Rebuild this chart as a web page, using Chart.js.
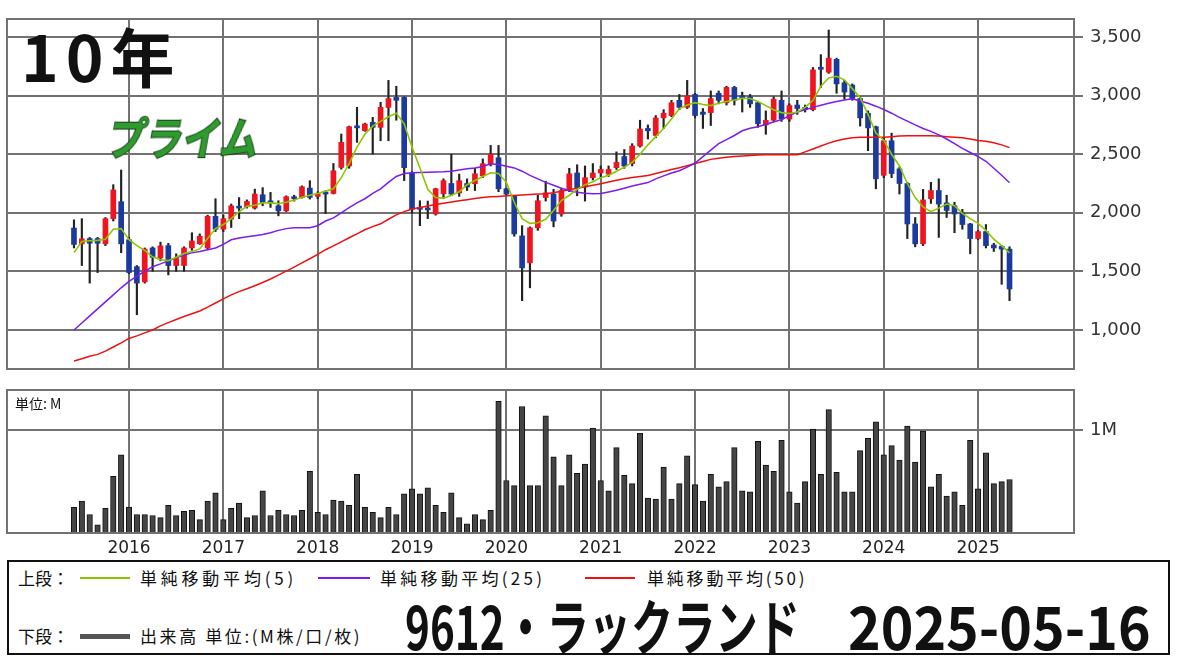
<!DOCTYPE html>
<html>
<head>
<meta charset="utf-8">
<script src="https://cdn.jsdelivr.net/npm/chart.js@4"></script>
<style>
body{margin:0;background:#fff;width:1180px;height:663px;overflow:hidden;position:relative;font-family:"Noto Sans CJK JP",sans-serif;color:#111;}
canvas{position:absolute;left:0;}
#price{top:0;}
#vol{top:372px;}
.t{position:absolute;white-space:nowrap;line-height:1;}
.ln{position:absolute;height:2px;}
#box{position:absolute;left:7px;top:560px;width:1159px;height:91px;border:2px solid #111;}
</style>
</head>
<body>
<canvas id="price" width="1180" height="372"></canvas>
<canvas id="vol" width="1180" height="188"></canvas>

<div class="t" id="span" style="left:21px;top:22px;font-size:64px;font-weight:700;letter-spacing:7px;">10年</div>
<div class="t" id="mkt" style="left:113px;top:113px;font-size:45px;font-weight:700;color:#2e9b2e;-webkit-text-stroke:2px #173d17;paint-order:stroke fill;transform-origin:0 0;transform:skewX(-10deg) scaleX(0.84);">プライム</div>
<div class="t" style="left:15px;top:396px;font-size:14px;">単位: M</div>

<div id="box"></div>
<div class="t" style="left:18px;top:569px;font-size:17px;">上段：</div>
<div class="ln" style="left:80px;top:577px;width:50px;background:#88c400;"></div>
<div class="t fit" data-w="157" style="left:140px;top:569px;font-size:17px;">単純移動平均(5)</div>
<div class="ln" style="left:318px;top:577px;width:52px;background:#7a1cf0;"></div>
<div class="t fit" data-w="165" style="left:380px;top:569px;font-size:17px;">単純移動平均(25)</div>
<div class="ln" style="left:585px;top:577px;width:50px;background:#f01010;"></div>
<div class="t fit" data-w="160" style="left:647px;top:569px;font-size:17px;">単純移動平均(50)</div>
<div class="t" style="left:18px;top:627px;font-size:17px;">下段：</div>
<div class="ln" style="left:80px;top:634px;width:50px;height:5px;background:#555;"></div>
<div class="t fit" data-w="222" style="left:140px;top:627px;font-size:17px;">出来高 単位:(M株/口/枚)</div>
<div class="t sx" data-w="395" style="left:405px;top:594px;font-size:60px;font-weight:700;transform-origin:0 0;">9612・ラックランド</div>
<div class="t sx" data-w="303" style="left:848px;top:594px;font-size:60px;font-weight:700;transform-origin:0 0;">2025-05-16</div>

<script>
// monthly candles, 2015-06 .. 2025-05
var opens = [1870,1735,1780,1780,1735,1950,2095,1770,1540,1410,1700,1615,1720,1550,1550,1700,1735,1700,1970,1860,
  1946,2055,2051,2040,2154,2095,2060,2017,2130,2131,2211,2140,2170,2165,2387,2400,2740,2701,2772,2729,
  2900,2985,2985,2340,2040,2035,1990,2162,2250,2170,2250,2248,2316,2419,2470,2205,2145,1803,1573,1872,
  2130,2160,1990,2205,2340,2220,2300,2340,2330,2385,2480,2420,2570,2720,2660,2810,2830,2960,2900,3010,
  2860,2855,3020,2940,3070,3000,2990,2940,2750,2790,2960,2800,2920,2900,2880,3240,3200,3310,3110,3090,
  2975,2850,2735,2320,2615,2375,2250,1905,1735,2120,2190,2085,2060,2000,1905,1780,1840,1725,1715,1690];
var highs = [1940,1950,1790,1790,1960,2240,2365,1790,1550,1700,1710,1750,1740,1650,1710,1830,1820,1980,2120,1980,
  2075,2130,2110,2202,2215,2174,2103,2145,2150,2230,2274,2180,2190,2421,2672,2740,2900,2765,2815,2943,
  3130,3080,2990,2350,2103,2100,2210,2290,2500,2330,2290,2380,2460,2575,2575,2210,2150,1890,1880,2150,
  2270,2200,2210,2380,2410,2400,2420,2400,2400,2520,2540,2590,2790,2750,2830,2880,2960,3010,3130,3020,
  2890,3040,3040,3080,3080,3030,3010,2950,2870,2990,3040,2930,2960,2920,3240,3350,3560,3320,3130,3100,
  2990,2870,2740,2640,2680,2390,2260,1960,2200,2260,2290,2150,2090,2030,1910,1850,1900,1740,1720,1710];
var lows = [1700,1550,1400,1490,1720,1930,1660,1480,1130,1400,1500,1590,1470,1500,1500,1680,1730,1690,1840,1840,
  1875,1950,2040,2031,2060,2046,1974,2010,2100,2125,2117,2120,1994,2160,2373,2380,2601,2695,2501,2615,
  2615,2790,2275,1995,1890,1950,1980,2120,2145,2140,2190,2190,2300,2400,2180,2150,1800,1250,1360,1850,
  2100,1880,1970,2180,2145,2100,2280,2300,2310,2370,2380,2400,2560,2630,2640,2720,2820,2880,2890,2810,
  2720,2745,2930,2920,2920,2860,2900,2730,2670,2780,2780,2780,2840,2860,2870,3070,3190,3020,2970,2960,
  2740,2530,2205,2300,2300,2160,1780,1710,1720,2080,1790,1960,1830,1860,1650,1770,1700,1670,1390,1250];
var closes = [1730,1778,1740,1740,1950,2195,1735,1490,1400,1690,1620,1718,1550,1610,1700,1760,1800,1970,1860,1950,
  2060,2040,2097,2160,2088,2085,2017,2137,2120,2222,2131,2165,2160,2359,2601,2735,2725,2758,2729,2900,
  2975,2960,2385,2030,2030,2025,2205,2274,2160,2274,2220,2333,2419,2500,2205,2160,1820,1530,1872,2103,
  2170,1930,2190,2333,2205,2300,2340,2370,2370,2430,2400,2570,2715,2700,2810,2850,2940,2900,3000,2830,
  2840,2975,2960,3070,2960,2980,2930,2760,2790,2970,2800,2915,2890,2880,3220,3225,3320,3100,3030,2975,
  2810,2725,2290,2615,2335,2250,1905,1735,2110,2190,2075,2020,1990,1900,1780,1840,1720,1700,1690,1350];

var ma5 = [1660,1755,1762,1765,1775,1860,1865,1770,1720,1680,1625,1600,1592,1620,1652,1670,1692,1780,1865,1900,
  1950,2010,2055,2065,2085,2085,2078,2090,2110,2132,2150,2165,2185,2205,2300,2420,2560,2670,2740,2780,
  2820,2850,2760,2560,2385,2200,2130,2125,2150,2180,2240,2275,2310,2342,2335,2260,2090,1950,1910,1915,
  1945,2020,2105,2150,2200,2240,2265,2300,2320,2355,2390,2430,2500,2580,2650,2720,2800,2889,2920,2940,
  2925,2915,2935,2950,2962,2978,2975,2950,2915,2880,2855,2848,2860,2900,2960,3080,3150,3165,3135,3060,
  2983,2840,2680,2620,2500,2400,2250,2130,2050,2010,2040,2075,2060,1995,1950,1910,1850,1775,1720,1658];
var ma25 = [1000,1060,1120,1180,1240,1300,1360,1415,1460,1500,1540,1564,1590,1615,1640,1658,1670,1685,1700,1730,
  1770,1785,1795,1805,1815,1830,1850,1865,1872,1872,1872,1890,1930,1957,2000,2045,2085,2120,2165,2205,
  2260,2310,2335,2342,2344,2346,2348,2350,2355,2365,2375,2382,2395,2419,2412,2398,2383,2355,2320,2290,
  2260,2235,2210,2190,2175,2167,2162,2165,2178,2192,2210,2228,2243,2258,2290,2315,2340,2359,2390,2425,
  2480,2535,2590,2625,2660,2700,2722,2735,2755,2775,2795,2830,2860,2880,2900,2918,2935,2950,2962,2974,
  2955,2935,2910,2882,2850,2815,2782,2750,2720,2695,2665,2630,2590,2550,2515,2480,2440,2380,2320,2256];
var ma50 = [735,755,775,792,820,855,890,928,950,975,1000,1035,1063,1090,1115,1138,1162,1195,1230,1265,
  1300,1327,1352,1378,1405,1435,1468,1502,1537,1572,1608,1645,1685,1718,1752,1787,1820,1855,1882,1906,
  1945,1982,2010,2032,2045,2058,2070,2082,2092,2102,2112,2122,2130,2136,2140,2145,2148,2152,2156,2160,
  2162,2172,2185,2197,2210,2222,2235,2248,2262,2277,2290,2302,2310,2318,2335,2352,2370,2385,2402,2420,
  2438,2456,2466,2474,2480,2485,2490,2494,2496,2496,2496,2496,2496,2520,2545,2570,2595,2615,2630,2641,
  2645,2645,2645,2645,2650,2655,2658,2658,2658,2658,2655,2650,2645,2641,2630,2618,2610,2598,2580,2556];

// volume, millions of shares
var volumes = [0.25,0.31,0.18,0.08,0.24,0.55,0.76,0.25,0.18,0.18,0.17,0.15,0.27,0.17,0.21,0.22,0.13,0.31,0.39,0.13,
  0.24,0.29,0.15,0.17,0.41,0.17,0.22,0.18,0.17,0.22,0.60,0.20,0.18,0.32,0.31,0.27,0.57,0.25,0.20,0.15,
  0.25,0.18,0.38,0.43,0.38,0.44,0.27,0.20,0.39,0.15,0.09,0.18,0.13,0.22,1.28,0.51,0.46,1.23,0.46,0.46,
  1.14,0.74,0.46,0.76,0.58,0.67,1.02,0.51,0.41,0.83,0.56,0.48,0.97,0.34,0.33,0.64,0.33,0.48,0.75,0.47,
  0.31,0.57,0.45,0.50,0.83,0.41,0.40,0.89,0.66,0.60,0.90,0.40,0.29,0.50,1.01,0.57,1.20,0.59,0.40,0.40,
  0.80,0.92,1.08,0.76,0.85,0.71,1.04,0.69,0.99,0.45,0.57,0.36,0.40,0.27,0.90,0.43,0.78,0.48,0.50,0.52];

var yearLabels = ['2016','2017','2018','2019','2020','2021','2022','2023','2024','2025'];
var yearIndex = [7,19,31,43,55,67,79,91,103,115];   // January candles
var priceTicks = [1000,1500,2000,2500,3000,3500];
var volTicks = [1];

var UP = '#f0141e', DOWN = '#1c3a9e', GRID = '#727272';
var X_MIN = -8.52, X_MAX = 127.2;

function pts(arr) { return arr.map(function(v, i) { return {x: i, y: v}; }); }

var frame = {
  id: 'frame',
  afterDraw: function(c) {
    var a = c.chartArea, ctx = c.ctx;
    ctx.save();
    ctx.strokeStyle = GRID;
    ctx.lineWidth = 2;
    ctx.strokeRect(a.left, a.top, a.right - a.left, a.bottom - a.top);
    ctx.restore();
  }
};

function xAxis(showLabels) {
  return {
    type: 'linear', min: X_MIN, max: X_MAX, offset: false,
    afterBuildTicks: function(s) { s.ticks = yearIndex.map(function(v) { return {value: v}; }); },
    ticks: {
      display: showLabels, autoSkip: false, maxRotation: 0, padding: 5,
      color: '#222', font: {family: 'DejaVu Sans', size: 17},
      callback: function(v) { return yearLabels[yearIndex.indexOf(v)]; }
    },
    grid: {color: GRID, lineWidth: 2, drawTicks: false, offset: false},
    border: {display: false},
    afterFit: function(s) { s.height = showLabels ? 27 : 0; s.paddingLeft = 0; s.paddingRight = 0; }
  };
}

function yAxis(min, max, ticks, fmt) {
  return {
    position: 'right', min: min, max: max,
    afterBuildTicks: function(s) { s.ticks = ticks.map(function(v) { return {value: v}; }); },
    ticks: {callback: fmt, color: '#333', padding: 7, font: {family: 'DejaVu Sans', size: 18}},
    grid: {color: GRID, lineWidth: 2, tickLength: 9},
    border: {display: false},
    afterFit: function(s) { s.width = 106; s.paddingTop = 0; s.paddingBottom = 0; }
  };
}

var common = {
  responsive: false, animation: false, devicePixelRatio: 1,
  plugins: {legend: {display: false}, tooltip: {enabled: false}},
  datasets: {bar: {grouped: false}}
};

new Chart(document.getElementById('price'), {
  type: 'bar',
  data: {
    datasets: [
      {type: 'line', data: pts(ma5), borderColor: '#8cc800', borderWidth: 1.6, pointRadius: 0, order: 0},
      {type: 'line', data: pts(ma25), borderColor: '#7a1cf0', borderWidth: 1.5, pointRadius: 0, order: 1},
      {type: 'line', data: pts(ma50), borderColor: '#f01010', borderWidth: 1.5, pointRadius: 0, order: 1},
      {data: opens.map(function(o, i) { return {x: i, y: [o, closes[i]]}; }),
       backgroundColor: opens.map(function(o, i) { return closes[i] >= o ? UP : DOWN; }),
       barThickness: 5, minBarLength: 2, order: 2},
      {data: lows.map(function(l, i) { return {x: i, y: [l, highs[i]]}; }),
       backgroundColor: '#222', barThickness: 1.5, order: 3}
    ]
  },
  options: Object.assign({}, common, {
    layout: {padding: {left: 7, top: 19, right: 0, bottom: 3}},
    scales: {
      x: xAxis(false),
      y: yAxis(667, 3654, priceTicks, function(v) { return v.toLocaleString('en-US'); })
    }
  }),
  plugins: [frame]
});

new Chart(document.getElementById('vol'), {
  type: 'bar',
  data: {
    datasets: [{
      data: pts(volumes), backgroundColor: '#454545', borderColor: '#111', borderWidth: 1,
      barThickness: 5.5
    }]
  },
  options: Object.assign({}, common, {
    layout: {padding: {left: 7, top: 18, right: 0, bottom: 0}},
    scales: {
      x: xAxis(true),
      y: yAxis(0, 1.39, volTicks, function(v) { return v + 'M'; })
    }
  }),
  plugins: [frame]
});

// squeeze/stretch text to the widths seen in the picture
document.querySelectorAll('.fit').forEach(function(el) {
  var w = +el.dataset.w, n = el.textContent.length;
  el.style.letterSpacing = ((w - el.offsetWidth) / n) + 'px';
});
document.querySelectorAll('.sx').forEach(function(el) {
  el.style.transform = 'scaleX(' + (+el.dataset.w / el.offsetWidth) + ')';
});
</script>
</body>
</html>
